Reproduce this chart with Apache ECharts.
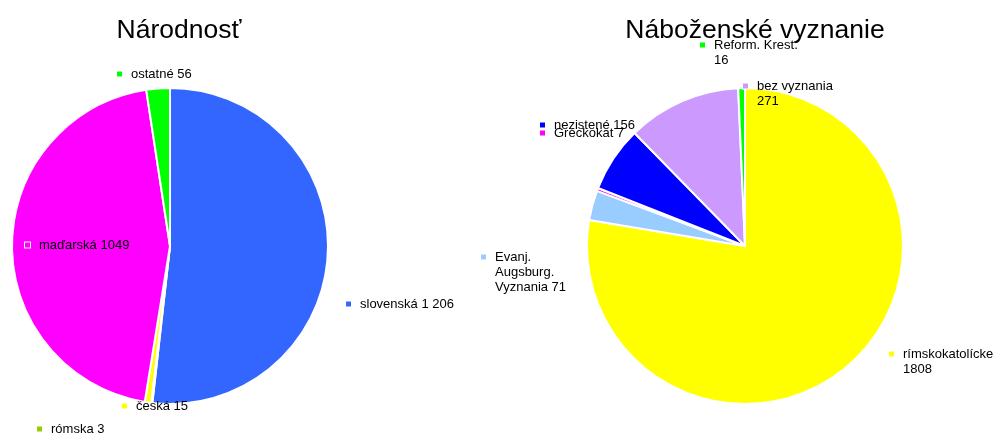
<!DOCTYPE html>
<html><head><meta charset="utf-8">
<script src="https://cdn.jsdelivr.net/npm/echarts@6/dist/echarts.min.js"></script>
<style>html,body{margin:0;padding:0;background:#fff}#c{width:998px;height:435px}</style>
</head><body><div id="c"></div>
<script>
const natCategories = ['slovenská', 'rómska', 'česká', 'maďarská', 'ostatné'];
const natLabels = ['slovenská 1 206', 'rómska 3', 'česká 15', 'maďarská 1049', 'ostatné 56'];
const natValues = [1206, 3, 15, 1049, 56];

const relCategories = ['rímskokatolícke', 'Evanj. Augsburg. Vyznania', 'Gréckokat', 'nezistené', 'bez vyznania', 'Reform. Krest.'];
const relLabels = ['rímskokatolícke\n1808', 'Evanj.\nAugsburg.\nVyznania 71', 'Gréckokat 7', 'nezistené 156', 'bez vyznania\n271', 'Reform. Krest.\n16'];
const relValues = [1808, 71, 7, 156, 271, 16];

const natColors = ['#3366FF', '#99CC00', '#FFFF00', '#FF00FF', '#00FF00'];
const relColors = ['#FFFF00', '#99CCFF', '#FF00FF', '#0000FF', '#CC99FF', '#00FF00'];

// label anchor positions (layout only)
const natLabelPos = [[346, 296.5], [37, 421.5], [122, 398.5], [25, 237.5], [117, 66.5]];
const relLabelPos = [[889, 346.5], [481, 249.5], [540, 125.5], [540, 117.5], [743, 78.5], [700, 37.5]];

const FONT = '"Liberation Sans", Arial, sans-serif';

function richText(text) {
  return text.split('\n').map((l, i) => (i === 0 ? '{m|}' : '{s|}') + '{t|' + l + '}').join('\n');
}
function buildData(cats, labels, values, colors) {
  return cats.map((c, i) => ({
    name: c,
    value: values[i],
    itemStyle: { color: colors[i] },
    label: {
      formatter: richText(labels[i]),
      rich: {
        m: { width: 5, height: 5, backgroundColor: colors[i], borderColor: '#fff', borderWidth: 1 },
        s: { width: 5 },
        t: { padding: [0, 0, 0, 9], fontSize: 13, color: '#000', fontFamily: FONT, lineHeight: 15 }
      }
    }
  }));
}
function pieSeries(cats, labels, values, colors, center, pos) {
  return {
    type: 'pie',
    center: center,
    radius: 158,
    startAngle: 90,
    clockwise: true,
    avoidLabelOverlap: false,
    animation: false,
    silent: true,
    itemStyle: { borderColor: '#fff', borderWidth: 2 },
    label: { show: true, position: 'outside', color: '#000', fontFamily: FONT, fontSize: 13, lineHeight: 15 },
    labelLine: { show: false },
    labelLayout: function (p) {
      const q = pos[p.dataIndex];
      return { x: q[0], y: q[1], align: 'left', verticalAlign: 'top', hideOverlap: false };
    },
    emphasis: { disabled: true },
    data: buildData(cats, labels, values, colors)
  };
}

const chart = echarts.init(document.getElementById('c'), null, { renderer: 'canvas' });
chart.setOption({
  backgroundColor: '#fff',
  animation: false,
  title: [
    { text: 'Národnosť', left: 174, top: 12, textAlign: 'center',
      textStyle: { fontFamily: FONT, fontSize: 26.5, fontWeight: 'normal', color: '#000' } },
    { text: 'Náboženské vyznanie', left: 750, top: 12, textAlign: 'center',
      textStyle: { fontFamily: FONT, fontSize: 26.5, fontWeight: 'normal', color: '#000' } }
  ],
  series: [
    pieSeries(natCategories, natLabels, natValues, natColors, [170, 246], natLabelPos),
    pieSeries(relCategories, relLabels, relValues, relColors, [745, 246], relLabelPos)
  ]
});
</script></body></html>
